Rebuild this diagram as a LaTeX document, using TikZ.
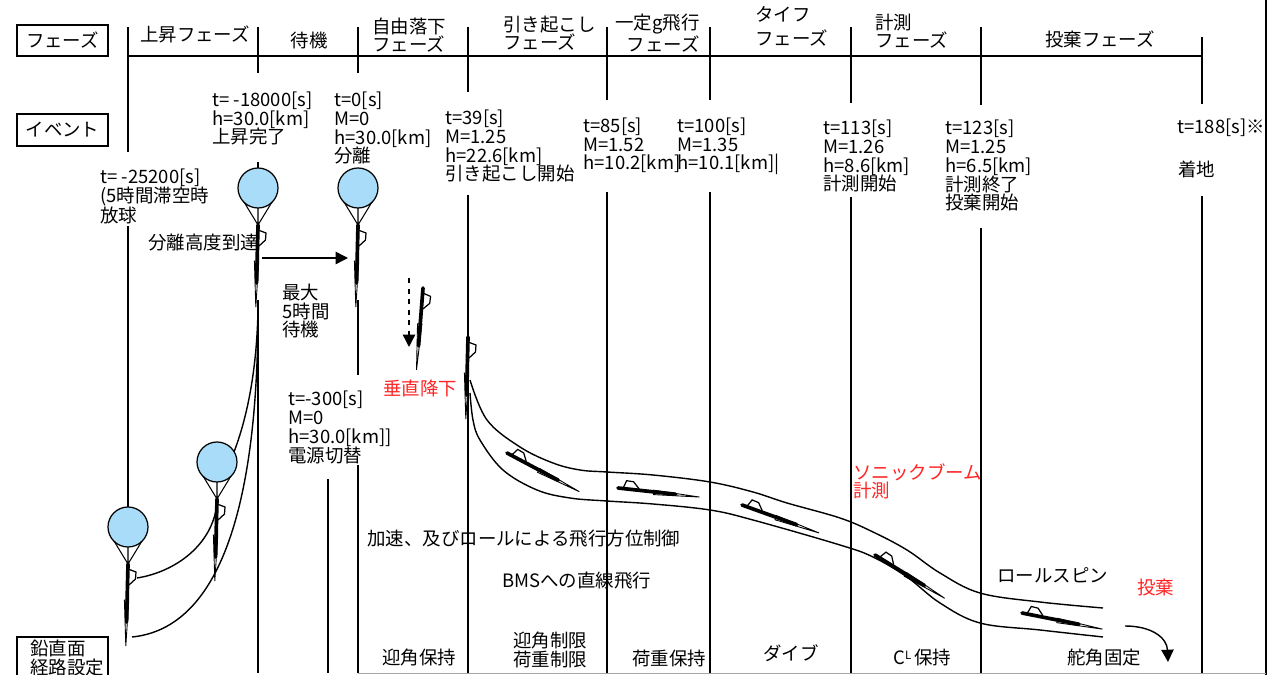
\documentclass[tikz,border=0pt]{standalone}
\usepackage{fontspec}
\setmainfont{Noto Sans CJK JP}
\usetikzlibrary{arrows.meta}

\definecolor{balloonblue}{HTML}{A8DCF8}
\definecolor{markred}{HTML}{FF2424}

% glider: tail at origin, nose along +x, fin on the upper side
\tikzset{
  pics/craft/.style={code={
    \draw[line width=.5pt, fill=white] (36,-0.8) -- (82,2.2) -- (36,3.6) -- cycle;
    \draw[line width=2.1pt, line cap=round] (0,0) -- (58,1.4);
    \draw[line width=.7pt] (5,0) -- (8,-8) -- (15,-7.5) -- (21,-1);
  }},
  pics/balloon/.style={code={
    \draw[line width=.7pt, fill=balloonblue] (0,0) circle (20);
    \draw[line width=.6pt] (-14,14) -- (0,37) -- (14,14) (0,20) -- (0,37);
    \pic[rotate=-90] at (0,37) {craft};
  }}
}

\begin{document}
\begin{tikzpicture}[x=0.02cm, y=-0.02cm,
  txt/.style={font=\fontsize{10.5}{10.8}\selectfont, inner sep=0pt, align=left, anchor=base west},
  redtxt/.style={txt, text=markred},
  box/.style={draw, line width=1.1pt},
  tick/.style={line width=1.3pt},
  div/.style={line width=0.8pt},
  flight/.style={line width=0.8pt},
  arr/.style={line width=0.8pt, -{Triangle[length=7pt,width=7pt]}}]
\useasboundingbox (0,0) rectangle (1285,675);

% left hand boxes (multi-line texts are placed by their last baseline)
\node[box, txt, anchor=center, minimum width=1.82cm, minimum height=0.62cm] (phasebox) at (62.5,40.5) {フェーズ};
\node[box, txt, anchor=center, minimum width=1.82cm, minimum height=0.64cm] (eventbox) at (62.5,130) {イベント};
\draw[box] (17,700) |- (108,637) -- (108,700);
\node[txt] (planebox) at (30,674) {鉛直面\\経路設定};

% phase axis
\draw[tick] (128,56) -- (1203,56);
\draw[tick] (128,27) -- (128,152);
\foreach \x/\a/\b in {258/27/73, 358/27/73, 468/27/92, 607/27/100, 710/27/100, 851/27/103, 981/27/105, 1202/37/104}
  \draw[tick] (\x,\a) -- (\x,\b);

% lower dividers
\foreach \x/\a in {328/479, 358/465, 468/195, 607/192, 710/192, 851/197, 981/228, 1202/196}
  \draw[div] (\x,\a) -- (\x,673);
\draw[div] (128,226) -- (128,507);
\draw[div] (258,162) -- (258,168);
\draw[div] (258,300) -- (258,673);
\draw[div] (358,300) -- (358,375);
\draw[line width=1.1pt] (1266,0) -- (1266,675);
\draw[black!35, line width=.5pt] (358,673.5) -- (1266,673.5);

% phase names
\node[txt, anchor=base] (ascent) at (195,42) {上昇フェーズ};
\node[txt, anchor=base] (standby) at (309,48) {待機};
\node[txt] (freefall) at (372,52) {自由落下\\フェーズ};
\node[txt] (pullup) at (503,50) {引き起こし\\フェーズ};
\node[txt, align=right, anchor=base east] (constg) at (700,52) {一定g飛行\\フェーズ};
\node[txt] (dive) at (755,46) {タイフ\\[3pt]フェーズ};
\node[txt] (measure) at (875,48) {計測\\フェーズ};
\node[txt, anchor=base] (drop) at (1100,47) {投棄フェーズ};

% events
\node[txt] (ev0) at (100,223) {t= -25200[s]\\(5時間滞空時\\放球};
\node[txt] (ev1) at (212,144) {t= -18000[s]\\h=30.0[km]\\上昇完了};
\node[txt] (ev2) at (334,163) {t=0[s]\\M=0\\h=30.0[km]\\分離};
\node[txt] (ev3) at (445,181) {t=39[s]\\M=1.25\\h=22.6[km]\\引き起こし開始};
\node[txt] (ev4) at (583,170) {t=85[s]\\M=1.52\\h=10.2[km]};
\node[txt] (ev5) at (677,170) {t=100[s]\\M=1.35\\h=10.1[km]|};
\node[txt] (ev6) at (823,191) {t=113[s]\\M=1.26\\h=8.6[km]\\計測開始};
\node[txt] (ev7) at (945,210) {t=123[s]\\M=1.25\\h=6.5[km]\\計測終了\\投棄開始};
\node[txt] (ev8) at (1177,134) {t=188[s]※};
\node[txt] (land) at (1178,177) {着地};

% balloons and gliders
\pic at (258,188) {balloon};
\pic at (358,188) {balloon};
\pic at (217,462) {balloon};
\pic at (128,527) {balloon};
\pic[rotate=-93] at (423,288) {craft};
\pic[rotate=-90] at (468,337) {craft};
\pic[rotate=-26.6] at (507,453) {craft};
\pic[rotate=-4.8] at (618,488) {craft};
\pic[rotate=-18.4] at (742,505) {craft};
\pic[rotate=-30.3] at (875,555) {craft};
\pic[rotate=-9.8] at (1022,613) {craft};

% ascent tracks
\coordinate (lowA) at (137,578);
\coordinate (lowB) at (132,637);
\coordinate (midA) at (217,503);
\coordinate (midB) at (234,452);
\coordinate (topA) at (258,310);
\draw[flight] (lowA) .. controls (175,572) and (213,545) .. (midA);
\draw[flight] (lowB) .. controls (222,628) and (258,500) .. (topA);
\draw[flight] (midB) .. controls (250,410) and (257,360) .. (topA);

% flight corridor
\draw[flight] plot[smooth, tension=.6] coordinates {(470,380) (487,420) (520,447) (553,463) (580,470) (607,472) (653,475) (710,482) (753,492) (787,503) (840,518) (873,532) (907,550) (940,573) (980,593) (1040,602) (1103,608)};
\draw[flight] plot[smooth, tension=.6] coordinates {(470,393) (473,420) (480,440) (503,470) (537,490) (570,498) (607,501) (653,504) (710,510) (753,520) (840,545) (873,557) (907,577) (940,603) (980,623) (1040,630) (1103,637)};

% arrows
\coordinate (sepA) at (262,258);
\coordinate (sepB) at (348,258);
\draw[arr] (sepA) -- (sepB);
\coordinate (fallA) at (409,278);
\coordinate (fallB) at (409,347);
\draw[arr, dashed] (fallA) -- (fallB);
\coordinate (dropA) at (1125,626);
\coordinate (dropB) at (1168,662);
\draw[arr] (dropA) .. controls (1152,626) and (1167,638) .. (dropB);

% notes
\node[txt] (sepalt) at (148,250) {分離高度到達};
\node[txt] (wait) at (282,337) {最大\\5時間\\待機};
\node[txt] (power) at (288,462) {t=-300[s]\\M=0\\h=30.0[km]]\\電源切替};
\node[redtxt, anchor=base] (vert) at (420,396) {垂直降下};
\node[txt] (roll) at (367,545) {加速、及びロールによる飛行方位制御};
\node[txt] (bms) at (502,587) {BMSへの直線飛行};
\node[redtxt] (boom) at (853,498) {ソニックブーム\\計測};
\node[txt] (spin) at (997,582) {ロールスピン};
\node[redtxt] (dump) at (1137,594) {投棄};

% control modes
\node[txt] (aoa) at (382,664) {迎角保持};
\node[txt] (limit) at (513,666) {迎角制限\\荷重制限};
\node[txt] (load) at (632,665) {荷重保持};
\node[txt] (dv) at (763,660) {ダイブ};
\node[txt] (cl) at (893,664) {C\raisebox{2.5pt}{\fontsize{6.5}{6.5}\selectfont L}\,保持};
\node[txt] (rud) at (1067,664) {舵角固定};
\end{tikzpicture}
\end{document}
